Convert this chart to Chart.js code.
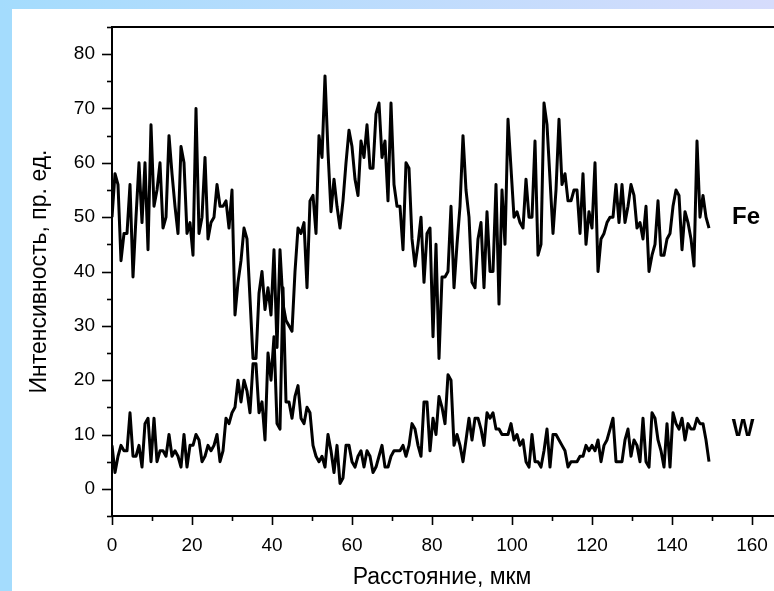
<!DOCTYPE html>
<html>
<head>
<meta charset="utf-8">
<title>Fe / W profile</title>
<script src="https://cdn.jsdelivr.net/npm/chart.js@4.4.1/dist/chart.umd.min.js"></script>
<style>
  html, body { margin: 0; padding: 0; width: 774px; height: 591px; overflow: hidden; background: #fff; }
  #wrap { position: absolute; left: 0; top: 0; width: 800px; height: 591px; }
  #frameLeft { position: absolute; left: 0; top: 0; width: 12px; height: 591px; background: #a4dcfd; }
  #frameTop { position: absolute; left: 0; top: 0; width: 774px; height: 9px; background: linear-gradient(to right, #a4dcfd, #d6dcfc); }
</style>
</head>
<body>
<div id="wrap"><canvas id="chart" width="800" height="591"></canvas></div>
<div id="frameLeft"></div>
<div id="frameTop"></div>
<script>
// Distance along the scan, µm
var distance = [
  0, 0.75, 1.5, 2.25, 3, 3.75, 4.5, 5.25, 6, 6.75,
  7.5, 8.25, 9, 9.75, 10.5, 11.25, 12, 12.75, 13.5, 14.25,
  15, 15.75, 16.5, 17.25, 18, 18.75, 19.5, 20.25, 21, 21.75,
  22.5, 23.25, 24, 24.75, 25.5, 26.25, 27, 27.75, 28.5, 29.25,
  30, 30.75, 31.5, 32.25, 33, 33.75, 34.5, 35.25, 36, 36.75,
  37.5, 38.25, 39, 39.75, 40.5, 41.25, 42, 42.75, 43.5, 44.25,
  45, 45.75, 46.5, 47.25, 48, 48.75, 49.5, 50.25, 51, 51.75,
  52.5, 53.25, 54, 54.75, 55.5, 56.25, 57, 57.75, 58.5, 59.25,
  60, 60.75, 61.5, 62.25, 63, 63.75, 64.5, 65.25, 66, 66.75,
  67.5, 68.25, 69, 69.75, 70.5, 71.25, 72, 72.75, 73.5, 74.25,
  75, 75.75, 76.5, 77.25, 78, 78.75, 79.5, 80.25, 81, 81.75,
  82.5, 83.25, 84, 84.75, 85.5, 86.25, 87, 87.75, 88.5, 89.25,
  90, 90.75, 91.5, 92.25, 93, 93.75, 94.5, 95.25, 96, 96.75,
  97.5, 98.25, 99, 99.75, 100.5, 101.25, 102, 102.75, 103.5, 104.25,
  105, 105.75, 106.5, 107.25, 108, 108.75, 109.5, 110.25, 111, 111.75,
  112.5, 113.25, 114, 114.75, 115.5, 116.25, 117, 117.75, 118.5, 119.25,
  120, 120.75, 121.5, 122.25, 123, 123.75, 124.5, 125.25, 126, 126.75,
  127.5, 128.25, 129, 129.75, 130.5, 131.25, 132, 132.75, 133.5, 134.25,
  135, 135.75, 136.5, 137.25, 138, 138.75, 139.5, 140.25, 141, 141.75,
  142.5, 143.25, 144, 144.75, 145.5, 146.25, 147, 147.75, 148.5, 149.25
];

// Fe intensity, arb. units
var fe = [
  50, 58, 56, 42, 47, 47, 56, 39, 50, 60,
  49, 60, 44, 67, 52, 55, 60, 48, 50, 65,
  58, 52, 47, 63, 60, 47, 49, 43, 70, 47,
  50, 61, 46, 49, 50, 56, 52, 52, 53, 48,
  55, 32, 38, 42, 48, 46, 35, 24, 24, 36,
  40, 33, 37, 32, 44, 26, 44, 34, 31, 30,
  29, 40, 48, 47, 49, 37, 53, 54, 47, 65,
  61, 76, 62, 51, 57, 52, 48, 53, 60, 66,
  63, 57, 54, 64, 61, 67, 59, 59, 69, 71,
  61, 64, 53, 71, 56, 52, 52, 44, 60, 59,
  46, 41, 45, 50, 38, 47, 48, 28, 45, 24,
  39, 39, 40, 52, 37, 45, 52, 65, 55, 50,
  38, 37, 46, 49, 37, 51, 40, 40, 56, 34,
  55, 45, 68, 59, 50, 51, 49, 48, 57, 50,
  50, 64, 43, 45, 71, 67, 57, 47, 55, 68,
  56, 58, 53, 53, 55, 55, 47, 58, 45, 51,
  48, 60, 40, 46, 47, 49, 50, 50, 56, 49,
  56, 49, 52, 56, 54, 48, 49, 46, 52, 40,
  43, 45, 53, 43, 43, 46, 47, 52, 55, 54,
  44, 51, 49, 46, 41, 64, 50, 54, 50, 48
];

// W intensity, arb. units
var w = [
  8, 3, 6, 8, 7, 7, 14, 6, 6, 8,
  4, 12, 13, 5, 13, 5, 7, 7, 6, 10,
  6, 7, 6, 4, 10, 4, 8, 8, 10, 9,
  5, 6, 8, 7, 8, 10, 5, 7, 13, 12,
  14, 15, 20, 16, 20, 18, 14, 23, 23, 14,
  16, 9, 25, 20, 28, 12, 11, 37, 16, 16,
  13, 17, 19, 13, 12, 15, 14, 8, 6, 5,
  6, 4, 10, 7, 3, 8, 1, 2, 8, 8,
  5, 4, 6, 7, 4, 7, 6, 3, 4, 6,
  8, 4, 4, 6, 7, 7, 7, 8, 6, 8,
  12, 11, 8, 6, 16, 16, 7, 13, 10, 17,
  15, 12, 21, 20, 8, 10, 8, 5, 9, 13,
  9, 13, 13, 11, 8, 14, 13, 14, 11, 11,
  10, 10, 10, 12, 9, 10, 8, 9, 5, 4,
  10, 5, 5, 4, 7, 11, 4, 10, 10, 9,
  8, 7, 4, 5, 5, 5, 6, 6, 8, 7,
  8, 7, 9, 5, 8, 9, 11, 13, 5, 5,
  5, 9, 11, 6, 9, 8, 5, 13, 5, 4,
  14, 13, 9, 7, 4, 12, 4, 14, 12, 11,
  13, 9, 12, 11, 11, 13, 12, 12, 9, 5
];

// Axis ranges and labels
var xRange = [0, 170];
var yRange = [-5, 85];
var xTitle = 'Расстояние, мкм';
var yTitle = 'Интенсивность, пр. ед.';
var seriesNames = ['Fe', 'W'];

var fontFamily = "'Liberation Sans', Arial, sans-serif";

function toPoints(values) {
  return distance.map(function (d, i) { return { x: d, y: values[i] }; });
}

// Draws the Origin-style frame: outward major/minor ticks, top line, titles and curve labels
var decorations = {
  id: 'decorations',
  afterDraw: function (chart) {
    var ctx = chart.ctx;
    var area = chart.chartArea;
    var xs = chart.scales.x;
    var ys = chart.scales.y;

    ctx.save();
    ctx.strokeStyle = '#000';
    ctx.lineWidth = 2;

    // top frame line and right edge
    ctx.beginPath();
    ctx.moveTo(area.left, area.top);
    ctx.lineTo(area.right, area.top);
    ctx.lineTo(area.right, area.bottom);
    ctx.stroke();

    // y ticks
    ctx.lineWidth = 1.6;
    ys.ticks.forEach(function (t) {
      var py = Math.round(ys.getPixelForValue(t.value)) + 0.5;
      var len = t.value % 10 === 0 ? 10 : 5;
      ctx.beginPath();
      ctx.moveTo(area.left, py);
      ctx.lineTo(area.left - len, py);
      ctx.stroke();
    });

    // x ticks
    xs.ticks.forEach(function (t) {
      var px = Math.round(xs.getPixelForValue(t.value)) + 0.5;
      var len = t.value % 20 === 0 ? 9 : 5;
      ctx.beginPath();
      ctx.moveTo(px, area.bottom);
      ctx.lineTo(px, area.bottom + len);
      ctx.stroke();
    });

    // axis titles
    ctx.fillStyle = '#000';
    ctx.font = '23px ' + fontFamily;
    ctx.textAlign = 'center';
    ctx.textBaseline = 'middle';
    ctx.fillText(xTitle, 442, 578);

    ctx.save();
    ctx.translate(40, (area.top + area.bottom) / 2);
    ctx.rotate(-Math.PI / 2);
    ctx.fillText(yTitle, 0, 0);
    ctx.restore();

    // curve labels
    ctx.font = 'bold 24px ' + fontFamily;
    ctx.fillText(seriesNames[0], 746, ys.getPixelForValue(50));
    ctx.fillText(seriesNames[1], 743, ys.getPixelForValue(11));

    ctx.restore();
  }
};

var ctx = document.getElementById('chart');

var config = {
  type: 'line',
  data: {
    datasets: [{
      label: seriesNames[0],
      data: toPoints(fe),
      borderColor: '#000',
      backgroundColor: '#000'
    }, {
      label: seriesNames[1],
      data: toPoints(w),
      borderColor: '#000',
      backgroundColor: '#000'
    }]
  },
  options: {
    responsive: false,
    animation: false,
    layout: { padding: { left: 0, top: 27, right: 8, bottom: 0 } },
    plugins: {
      legend: { display: false },
      tooltip: { enabled: false }
    },
    elements: {
      point: { radius: 0 },
      line: { borderWidth: 3, tension: 0, borderJoinStyle: 'round', fill: false }
    },
    scales: {
      x: {
        type: 'linear',
        min: xRange[0],
        max: xRange[1],
        afterFit: function (s) { s.height = 75; s.paddingLeft = 0; s.paddingRight = 0; },
        ticks: {
          stepSize: 10,
          autoSkip: false,
          maxRotation: 0,
          padding: 18,
          color: '#000',
          font: { size: 19, family: fontFamily },
          callback: function (v) { return v % 20 === 0 ? v : ''; }
        },
        grid: { drawOnChartArea: false, drawTicks: false },
        border: { color: '#000', width: 2 }
      },
      y: {
        min: yRange[0],
        max: yRange[1],
        afterFit: function (s) { s.width = 112; s.paddingTop = 0; s.paddingBottom = 0; },
        ticks: {
          stepSize: 5,
          autoSkip: false,
          padding: 17,
          color: '#000',
          font: { size: 19, family: fontFamily },
          callback: function (v) { return v % 10 === 0 ? v : ''; }
        },
        grid: { drawOnChartArea: false, drawTicks: false },
        border: { color: '#000', width: 2 }
      }
    }
  },
  plugins: [decorations]
};

var chart = new Chart(ctx, config);
</script>
</body>
</html>
